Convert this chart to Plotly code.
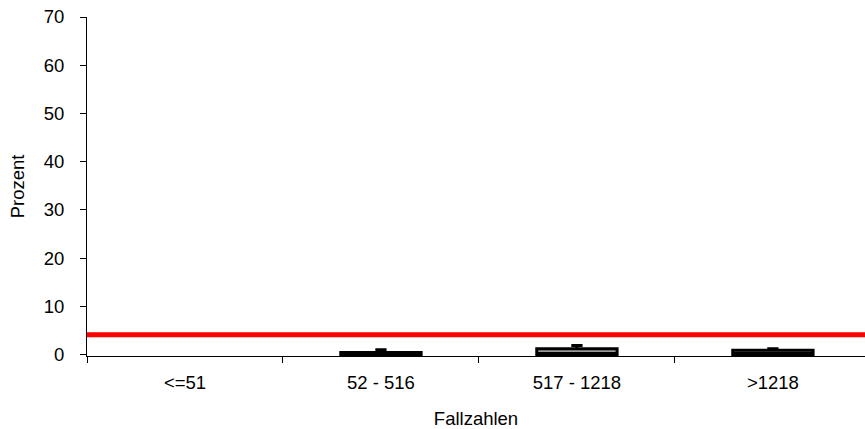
import plotly.graph_objects as go

# Fallzahl-Klassen und Kennwerte der Verteilung (Prozent)
categories = ["<=51", "52 - 516", "517 - 1218", ">1218"]
q1 = [None, 0.0, 0.0, 0.0]
median = [None, 0.0, 0.0, 0.0]
q3 = [None, 0.4, 1.2, 0.9]
lower = [None, 0.0, 0.0, 0.0]
upper = [None, 1.0, 1.9, 1.2]
reference_value = 4.1

fig = go.Figure()

for i, cat in enumerate(categories):
    if q1[i] is None:
        continue
    fig.add_trace(go.Box(
        x=[cat],
        q1=[q1[i]], median=[median[i]], q3=[q3[i]],
        lowerfence=[lower[i]], upperfence=[upper[i]],
        width=0.41,
        whiskerwidth=0.14,
        fillcolor="#9a9a9a",
        line=dict(color="black", width=3),
        boxpoints=False,
        showlegend=False,
        hoverinfo="skip",
    ))

# Referenzbereich als durchgehende rote Linie
fig.add_shape(
    type="line", xref="paper", yref="y",
    x0=0, x1=1, y0=reference_value, y1=reference_value,
    line=dict(color="#ff0000", width=5),
)

font = dict(family="Liberation Sans, Arial, sans-serif", size=18.5, color="black")

fig.update_layout(
    width=865, height=429,
    margin=dict(l=87, r=0, t=17, b=73),
    paper_bgcolor="white",
    plot_bgcolor="white",
    font=font,
    showlegend=False,
    xaxis=dict(
        type="category",
        categoryorder="array",
        categoryarray=categories,
        range=[-0.5, 3.47],
        showline=True, linecolor="black", linewidth=1,
        ticks="outside", tickson="boundaries", ticklen=6, tickcolor="black",
        ticklabelstandoff=10,
        showgrid=False, zeroline=False,
        title=dict(text="Fallzahlen", font=font, standoff=19),
        tickfont=font,
    ),
    yaxis=dict(
        range=[-0.3, 70],
        tickvals=[0, 10, 20, 30, 40, 50, 60, 70],
        showline=True, linecolor="black", linewidth=1,
        ticks="outside", ticklen=6, tickcolor="black",
        ticklabelstandoff=12,
        showgrid=False, zeroline=False,
        title=dict(text="Prozent", font=font, standoff=14),
        tickfont=font,
    ),
)

fig.write_html("out.html")
